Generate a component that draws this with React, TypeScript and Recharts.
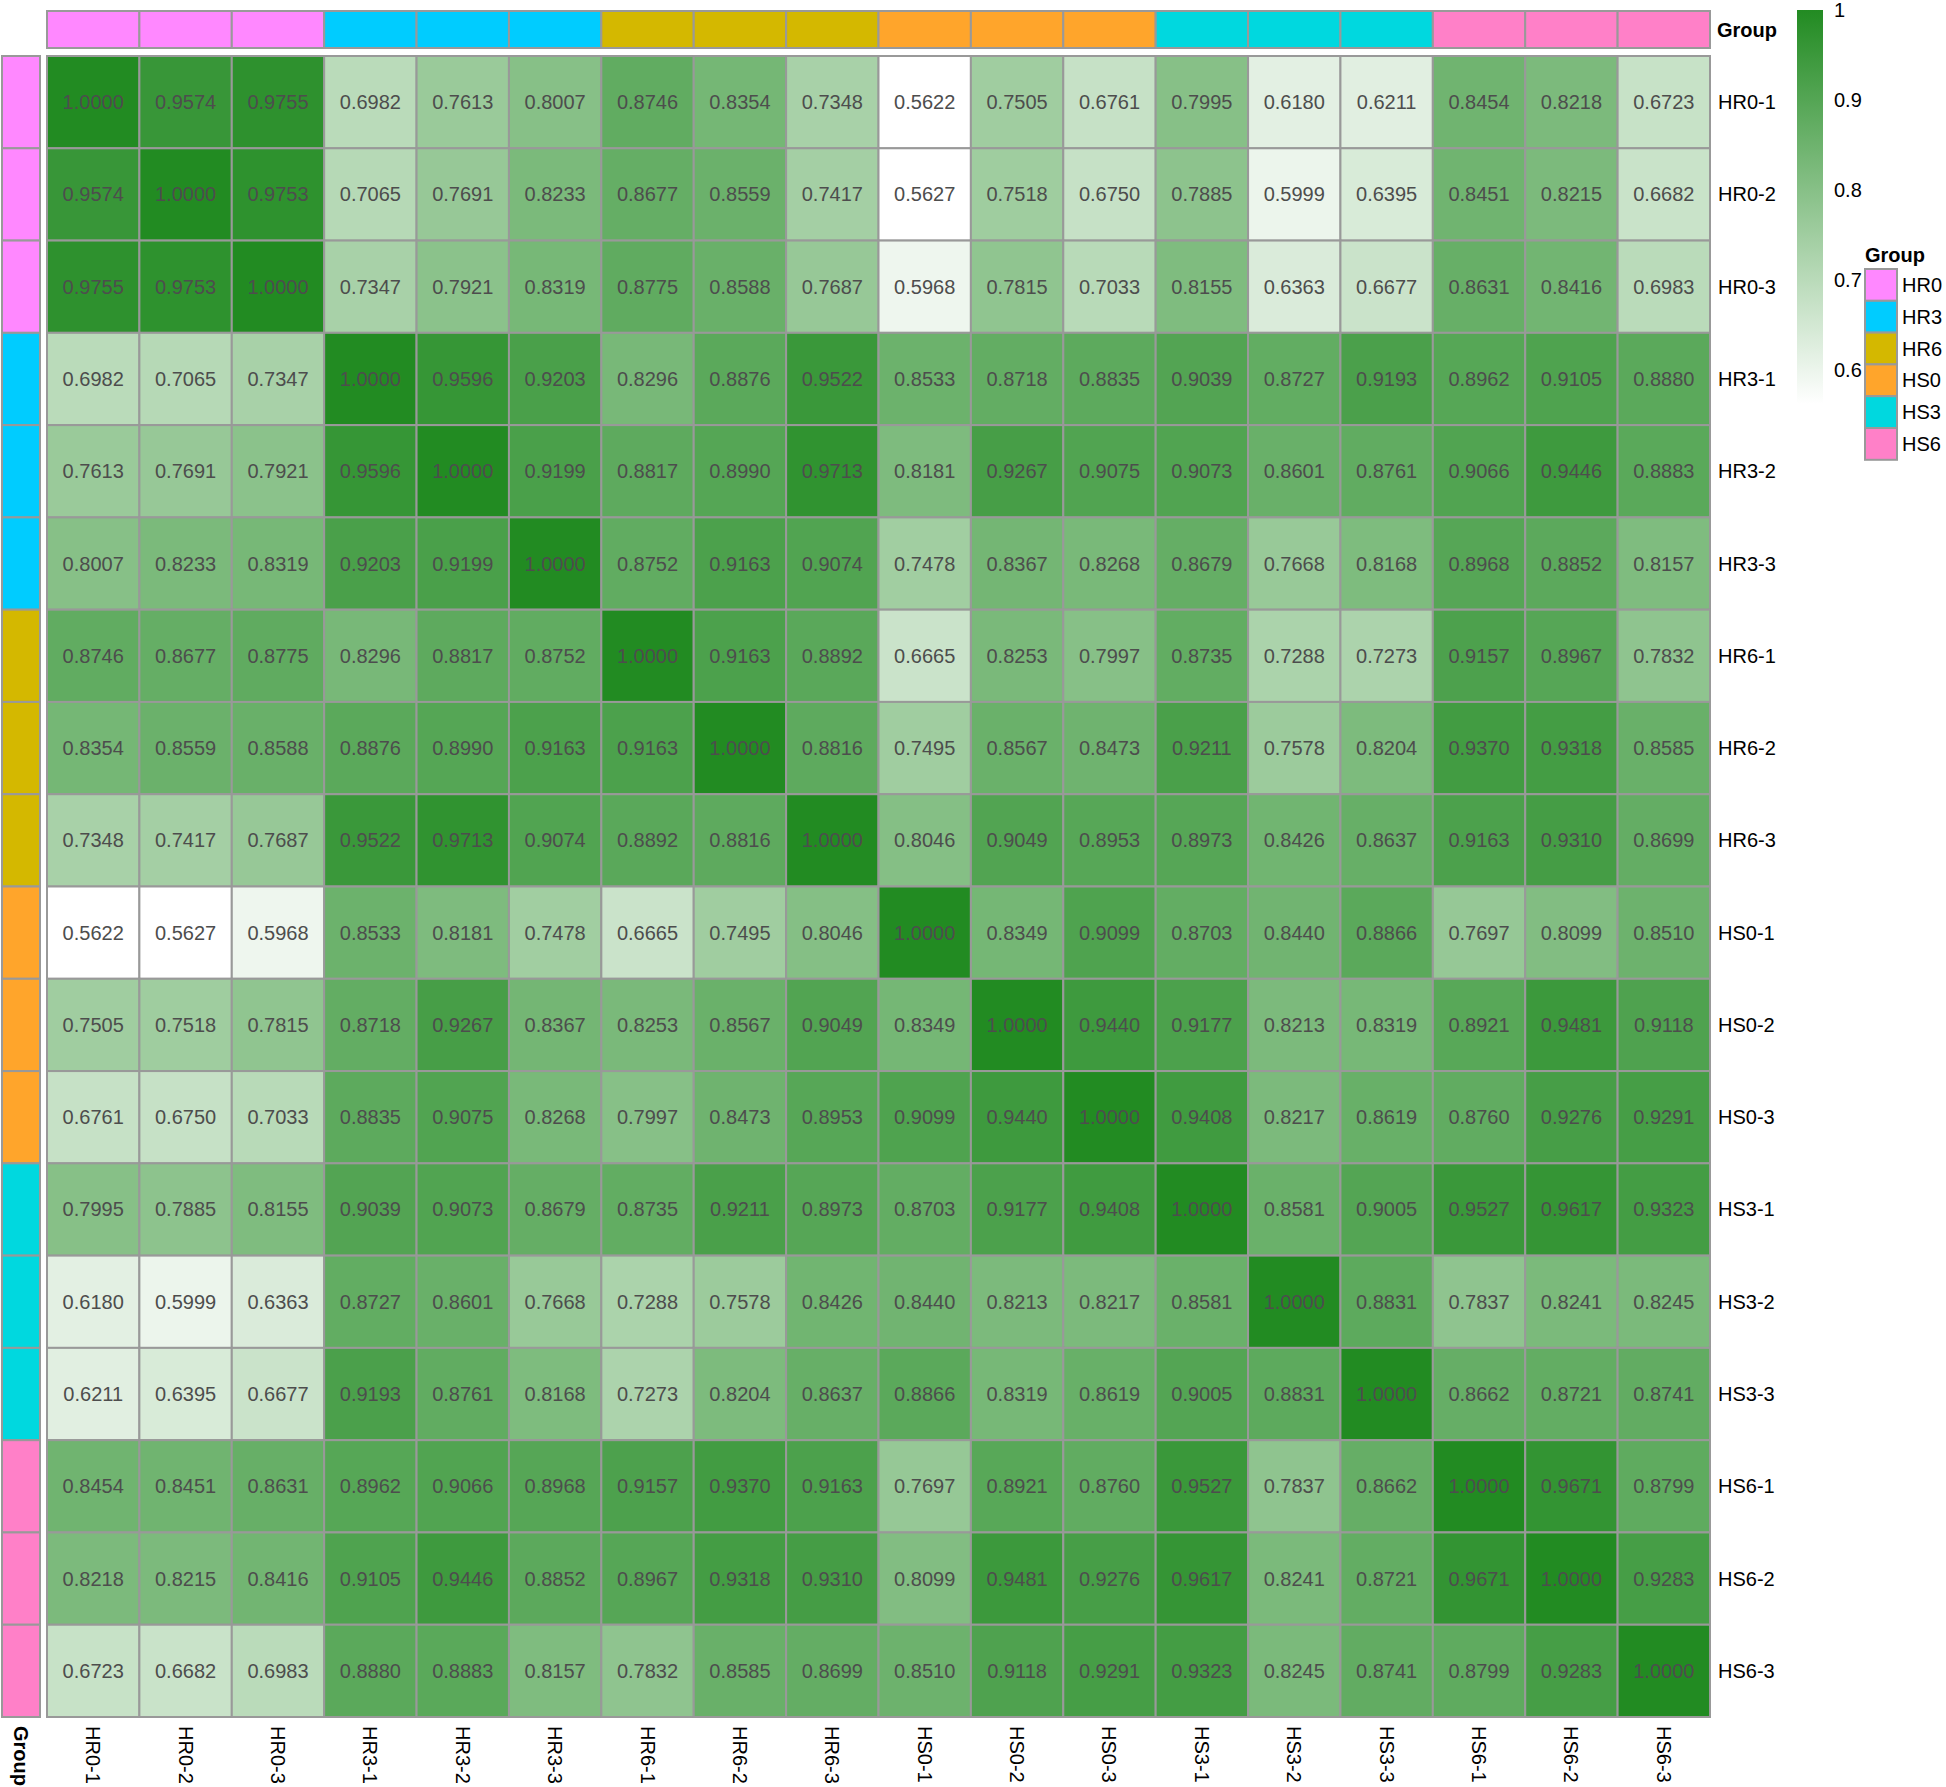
import React from "react";
import {
  Bar,
  BarChart,
  Scatter,
  ScatterChart,
  XAxis,
  YAxis,
} from "recharts";

const samples = [
  "HR0-1", "HR0-2", "HR0-3", "HR3-1", "HR3-2", "HR3-3",
  "HR6-1", "HR6-2", "HR6-3", "HS0-1", "HS0-2", "HS0-3",
  "HS3-1", "HS3-2", "HS3-3", "HS6-1", "HS6-2", "HS6-3",
];
const sampleGroups = [
  "HR0", "HR0", "HR0", "HR3", "HR3", "HR3",
  "HR6", "HR6", "HR6", "HS0", "HS0", "HS0",
  "HS3", "HS3", "HS3", "HS6", "HS6", "HS6",
];
const groupNames = ["HR0", "HR3", "HR6", "HS0", "HS3", "HS6"];
const groupColors = ["#FF88FF", "#00CCFF", "#D4B800", "#FFA52B", "#00D8DF", "#FF80C8"];

// correlation rows, same order as samples
const HR0_1 = [1.0, 0.9574, 0.9755, 0.6982, 0.7613, 0.8007, 0.8746, 0.8354, 0.7348, 0.5622, 0.7505, 0.6761, 0.7995, 0.618, 0.6211, 0.8454, 0.8218, 0.6723];
const HR0_2 = [0.9574, 1.0, 0.9753, 0.7065, 0.7691, 0.8233, 0.8677, 0.8559, 0.7417, 0.5627, 0.7518, 0.675, 0.7885, 0.5999, 0.6395, 0.8451, 0.8215, 0.6682];
const HR0_3 = [0.9755, 0.9753, 1.0, 0.7347, 0.7921, 0.8319, 0.8775, 0.8588, 0.7687, 0.5968, 0.7815, 0.7033, 0.8155, 0.6363, 0.6677, 0.8631, 0.8416, 0.6983];
const HR3_1 = [0.6982, 0.7065, 0.7347, 1.0, 0.9596, 0.9203, 0.8296, 0.8876, 0.9522, 0.8533, 0.8718, 0.8835, 0.9039, 0.8727, 0.9193, 0.8962, 0.9105, 0.888];
const HR3_2 = [0.7613, 0.7691, 0.7921, 0.9596, 1.0, 0.9199, 0.8817, 0.899, 0.9713, 0.8181, 0.9267, 0.9075, 0.9073, 0.8601, 0.8761, 0.9066, 0.9446, 0.8883];
const HR3_3 = [0.8007, 0.8233, 0.8319, 0.9203, 0.9199, 1.0, 0.8752, 0.9163, 0.9074, 0.7478, 0.8367, 0.8268, 0.8679, 0.7668, 0.8168, 0.8968, 0.8852, 0.8157];
const HR6_1 = [0.8746, 0.8677, 0.8775, 0.8296, 0.8817, 0.8752, 1.0, 0.9163, 0.8892, 0.6665, 0.8253, 0.7997, 0.8735, 0.7288, 0.7273, 0.9157, 0.8967, 0.7832];
const HR6_2 = [0.8354, 0.8559, 0.8588, 0.8876, 0.899, 0.9163, 0.9163, 1.0, 0.8816, 0.7495, 0.8567, 0.8473, 0.9211, 0.7578, 0.8204, 0.937, 0.9318, 0.8585];
const HR6_3 = [0.7348, 0.7417, 0.7687, 0.9522, 0.9713, 0.9074, 0.8892, 0.8816, 1.0, 0.8046, 0.9049, 0.8953, 0.8973, 0.8426, 0.8637, 0.9163, 0.931, 0.8699];
const HS0_1 = [0.5622, 0.5627, 0.5968, 0.8533, 0.8181, 0.7478, 0.6665, 0.7495, 0.8046, 1.0, 0.8349, 0.9099, 0.8703, 0.844, 0.8866, 0.7697, 0.8099, 0.851];
const HS0_2 = [0.7505, 0.7518, 0.7815, 0.8718, 0.9267, 0.8367, 0.8253, 0.8567, 0.9049, 0.8349, 1.0, 0.944, 0.9177, 0.8213, 0.8319, 0.8921, 0.9481, 0.9118];
const HS0_3 = [0.6761, 0.675, 0.7033, 0.8835, 0.9075, 0.8268, 0.7997, 0.8473, 0.8953, 0.9099, 0.944, 1.0, 0.9408, 0.8217, 0.8619, 0.876, 0.9276, 0.9291];
const HS3_1 = [0.7995, 0.7885, 0.8155, 0.9039, 0.9073, 0.8679, 0.8735, 0.9211, 0.8973, 0.8703, 0.9177, 0.9408, 1.0, 0.8581, 0.9005, 0.9527, 0.9617, 0.9323];
const HS3_2 = [0.618, 0.5999, 0.6363, 0.8727, 0.8601, 0.7668, 0.7288, 0.7578, 0.8426, 0.844, 0.8213, 0.8217, 0.8581, 1.0, 0.8831, 0.7837, 0.8241, 0.8245];
const HS3_3 = [0.6211, 0.6395, 0.6677, 0.9193, 0.8761, 0.8168, 0.7273, 0.8204, 0.8637, 0.8866, 0.8319, 0.8619, 0.9005, 0.8831, 1.0, 0.8662, 0.8721, 0.8741];
const HS6_1 = [0.8454, 0.8451, 0.8631, 0.8962, 0.9066, 0.8968, 0.9157, 0.937, 0.9163, 0.7697, 0.8921, 0.876, 0.9527, 0.7837, 0.8662, 1.0, 0.9671, 0.8799];
const HS6_2 = [0.8218, 0.8215, 0.8416, 0.9105, 0.9446, 0.8852, 0.8967, 0.9318, 0.931, 0.8099, 0.9481, 0.9276, 0.9617, 0.8241, 0.8721, 0.9671, 1.0, 0.9283];
const HS6_3 = [0.6723, 0.6682, 0.6983, 0.888, 0.8883, 0.8157, 0.7832, 0.8585, 0.8699, 0.851, 0.9118, 0.9291, 0.9323, 0.8245, 0.8741, 0.8799, 0.9283, 1.0];

const matrix = [
  HR0_1, HR0_2, HR0_3, HR3_1, HR3_2, HR3_3, HR6_1, HR6_2, HR6_3,
  HS0_1, HS0_2, HS0_3, HS3_1, HS3_2, HS3_3, HS6_1, HS6_2, HS6_3,
];
const legendTicks = [0.6, 0.7, 0.8, 0.9, 1];

const FONT = '"Liberation Sans", Arial, Helvetica, sans-serif';
const GRID = "#999999";
const N = samples.length;

// layout of the main body
const W = 1946;
const H = 1787;
const PL = 47;
const PT = 56;
const PR = 1710;
const PB = 1717;
const cw = (PR - PL) / N;
const ch = (PB - PT) / N;

const vMin = Math.min(...matrix.flat());
const vMax = 1;

function fillFor(v: number) {
  const t = (v - vMin) / (vMax - vMin);
  const mix = (a: number, b: number) => Math.round(a + (b - a) * t);
  return `rgb(${mix(255, 34)},${mix(255, 139)},${mix(255, 34)})`;
}
const groupColor = (g: string) => groupColors[groupNames.indexOf(g)];

const cells = matrix.flatMap((row, r) =>
  row.map((v, c) => ({ x: c + 0.5, y: r + 0.5, v }))
);
const topAnno = sampleGroups.map((g, c) => ({ x: c + 0.5, y: 0.5, g }));
const leftAnno = sampleGroups.map((g, r) => ({ x: 0.5, y: r + 0.5, g }));
const centers = samples.map((_, i) => i + 0.5);

const HeatCell = (props: any) => {
  const { cx, cy, payload } = props;
  return (
    <g>
      <rect x={cx - cw / 2} y={cy - ch / 2} width={cw} height={ch} fill={fillFor(payload.v)} stroke={GRID} strokeWidth={2} />
      <text x={cx} y={cy} textAnchor="middle" dominantBaseline="central" fontSize={20} fontFamily={FONT} fill="#4d4d4d">
        {payload.v.toFixed(4)}
      </text>
    </g>
  );
};

const TopAnnoCell = (props: any) => {
  const { cx, cy, payload } = props;
  return <rect x={cx - cw / 2} y={cy - 37 / 2} width={cw} height={37} fill={groupColor(payload.g)} stroke={GRID} strokeWidth={2} />;
};

const LeftAnnoCell = (props: any) => {
  const { cx, cy, payload } = props;
  return <rect x={cx - 19} y={cy - ch / 2} width={38} height={ch} fill={groupColor(payload.g)} stroke={GRID} strokeWidth={2} />;
};

const BottomTick = (props: any) => {
  const { x, y, payload, bold } = props;
  const label = bold ? "Group" : samples[Math.floor(payload.value)];
  return (
    <text
      transform={`translate(${x},${y}) rotate(90)`}
      textAnchor="start"
      dominantBaseline="central"
      fontSize={20}
      fontWeight={bold ? "bold" : "normal"}
      fontFamily={FONT}
      fill="#000"
    >
      {label}
    </text>
  );
};

const RightTick = (props: any) => {
  const { x, y, payload, bold } = props;
  const label = bold ? "Group" : samples[Math.floor(payload.value)];
  return (
    <text x={x} y={y} textAnchor="start" dominantBaseline="central" fontSize={20} fontWeight={bold ? "bold" : "normal"} fontFamily={FONT} fill="#000">
      {label}
    </text>
  );
};

const LegendTick = (props: any) => {
  const { x, y, payload } = props;
  return (
    <text x={x} y={y} textAnchor="start" dominantBaseline="central" fontSize={20} fontFamily={FONT} fill="#000">
      {payload.value === 1 ? "1" : payload.value.toFixed(1)}
    </text>
  );
};

const abs = (left: number, top: number): React.CSSProperties => ({ position: "absolute", left, top });

export default function App() {
  const boxH = 31.8;
  return (
    <div style={{ position: "absolute", left: 0, top: 0, width: W, height: H, background: "#fff", fontFamily: FONT }}>
      {/* main heatmap */}
      <div style={abs(0, 0)}>
        <ScatterChart width={W} height={H} margin={{ top: PT, left: PL, right: 0, bottom: 0 }}>
          <XAxis
            type="number"
            dataKey="x"
            domain={[0, N]}
            ticks={centers}
            interval={0}
            height={H - PB}
            axisLine={false}
            tickLine={false}
            tickSize={0}
            tickMargin={9}
            tick={<BottomTick />}
          />
          <YAxis
            type="number"
            dataKey="y"
            domain={[0, N]}
            reversed
            orientation="right"
            ticks={centers}
            interval={0}
            width={W - PR}
            axisLine={false}
            tickLine={false}
            tickSize={0}
            tickMargin={8}
            tick={<RightTick />}
          />
          <Scatter data={cells} shape={<HeatCell />} isAnimationActive={false} />
        </ScatterChart>
      </div>

      {/* top group annotation */}
      <div style={abs(0, 0)}>
        <ScatterChart width={W} height={60} margin={{ top: 11, left: PL, right: 0, bottom: 12 }}>
          <XAxis type="number" dataKey="x" domain={[0, N]} hide />
          <YAxis
            type="number"
            dataKey="y"
            domain={[0, 1]}
            orientation="right"
            ticks={[0.5]}
            width={W - PR}
            axisLine={false}
            tickLine={false}
            tickSize={0}
            tickMargin={7}
            tick={<RightTick bold />}
          />
          <Scatter data={topAnno} shape={<TopAnnoCell />} isAnimationActive={false} />
        </ScatterChart>
      </div>

      {/* left group annotation */}
      <div style={abs(0, 0)}>
        <ScatterChart width={42} height={H} margin={{ top: PT, left: 2, right: 2, bottom: 0 }}>
          <XAxis
            type="number"
            dataKey="x"
            domain={[0, 1]}
            ticks={[0.5]}
            height={H - PB}
            axisLine={false}
            tickLine={false}
            tickSize={0}
            tickMargin={9}
            tick={<BottomTick bold />}
          />
          <YAxis type="number" dataKey="y" domain={[0, N]} reversed hide />
          <Scatter data={leftAnno} shape={<LeftAnnoCell />} isAnimationActive={false} />
        </ScatterChart>
      </div>

      {/* colour bar */}
      <div style={abs(1790, 0)}>
        <BarChart
          width={150}
          height={420}
          data={[{ k: "c", range: [vMin, vMax] }]}
          margin={{ top: 10, left: 7, right: 0, bottom: 16 }}
          barCategoryGap={0}
        >
          <defs>
            <linearGradient id="cbGrad" x1="0" y1="0" x2="0" y2="1">
              <stop offset="0%" stopColor="#228B22" />
              <stop offset="100%" stopColor="#FFFFFF" />
            </linearGradient>
          </defs>
          <XAxis dataKey="k" hide />
          <YAxis
            type="number"
            domain={[vMin, vMax]}
            allowDataOverflow
            orientation="right"
            ticks={legendTicks}
            interval={0}
            width={117}
            axisLine={false}
            tickLine={false}
            tickSize={0}
            tickMargin={11}
            tick={<LegendTick />}
          />
          <Bar dataKey="range" fill="url(#cbGrad)" isAnimationActive={false} />
        </BarChart>
      </div>

      {/* group legend */}
      <div style={{ ...abs(1865, 243), fontSize: 20, fontWeight: "bold", lineHeight: "24px" }}>Group</div>
      <svg style={abs(1860, 265)} width={86} height={200}>
        {groupNames.map((g, i) => (
          <g key={g}>
            <rect x={5} y={4 + i * boxH} width={32} height={boxH} fill={groupColors[i]} stroke={GRID} strokeWidth={2} />
            <text x={42} y={4 + i * boxH + boxH / 2} dominantBaseline="central" fontSize={20} fontFamily={FONT} fill="#000">
              {g}
            </text>
          </g>
        ))}
      </svg>
    </div>
  );
}
